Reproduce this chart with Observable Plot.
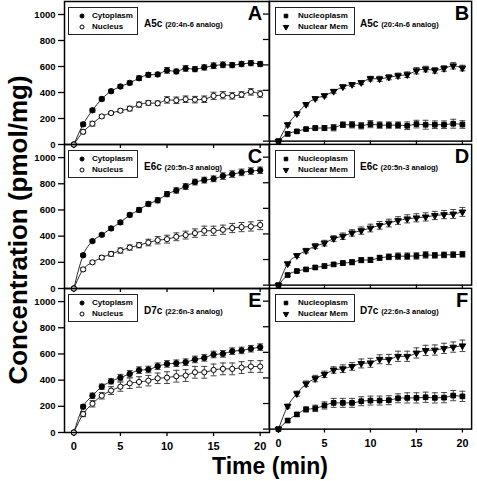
<!DOCTYPE html>
<html><head><meta charset="utf-8">
<script src="https://cdn.jsdelivr.net/npm/d3@7"></script>
<script src="https://cdn.jsdelivr.net/npm/@observablehq/plot@0.6"></script>
<style>
body{margin:0;background:#fff;}
#root{position:relative;width:477px;height:481px;overflow:hidden;font-family:"Liberation Sans",Arial,sans-serif;font-weight:bold;color:#000;}
.pw{position:absolute;}
.pw svg{overflow:visible;display:block;}
.legend{position:absolute;border:1px solid #222;box-sizing:border-box;background:#fff;font-size:8px;}
.legrow{position:absolute;left:0;white-space:nowrap;line-height:10px;}
.legrow svg{position:absolute;top:0;}
.legrow span{position:absolute;top:0;}
.clab{position:absolute;white-space:nowrap;transform:translateY(-50%);}
.clab .c{font-size:10px;}
.clab .a{font-size:7.5px;}
.letter{position:absolute;font-size:20px;transform:translate(-50%,-50%);}
#ylab{position:absolute;left:18px;top:230px;transform:translate(-50%,-50%) rotate(-90deg);white-space:nowrap;font-size:26px;}
#xlab{position:absolute;left:270px;top:466px;transform:translate(-50%,-50%);white-space:nowrap;font-size:23px;}
</style>
</head><body>
<div id="root">
  <div id="ylab">Concentration (pmol/mg)</div>
  <div id="xlab">Time (min)</div>
</div>
<script>
// ---------- data ----------
const time = [0,1,2,3,4,5,6,7,8,9,10,11,12,13,14,15,16,17,18,19,20];
const xTicks = [0,5,10,15,20];
const yTicks = [0,200,400,600,800,1000];
const panelLetters = ["A","B","C","D","E","F"];
const compounds = ["A5c","E6c","D7c"];
const analogs = ["(20:4n-6 analog)","(20:5n-3 analog)","(22:6n-3 analog)"];
const leftNames = ["Cytoplasm","Nucleus"];
const rightNames = ["Nucleoplasm","Nuclear Mem"];

const A_cyto     = [0,155,263,350,410,446,474,510,536,539,570,562,585,580,593,606,613,611,619,626,619];
const A_cyto_err = [0,15,15,15,14,15,15,18,18,16,22,18,22,20,20,22,22,20,20,20,20];
const A_nuc      = [0,98,160,216,242,260,276,307,320,317,343,340,348,345,348,374,379,374,384,405,388];
const A_nuc_err  = [0,15,18,12,12,14,18,20,18,18,25,25,25,25,25,28,28,25,22,25,25];

const B_np       = [0,57,77,95,103,103,106,129,129,121,134,126,126,126,121,134,129,129,129,137,131];
const B_np_err   = [0,15,12,10,15,20,25,22,25,25,28,25,25,25,30,30,35,30,30,35,30];
const B_mem      = [0,129,216,289,335,358,392,428,446,461,492,490,503,515,523,554,567,557,572,593,575];
const B_mem_err  = [0,15,12,12,12,12,15,15,15,15,18,20,20,20,22,25,22,22,22,25,22];

const C_cyto     = [0,254,362,410,459,505,562,600,646,674,721,749,779,813,828,838,859,874,887,897,903];
const C_cyto_err = [0,12,12,12,15,15,15,18,18,20,20,20,22,22,22,22,25,25,25,25,25];
const C_nuc      = [0,146,200,236,264,290,313,331,351,369,377,395,408,423,441,441,449,462,469,474,485];
const C_nuc_err  = [0,12,12,15,18,20,20,20,25,28,30,30,30,32,35,35,35,35,35,35,35];

const D_np       = [0,79,110,123,138,149,162,172,179,195,197,213,221,226,226,228,236,233,236,238,241];
const D_np_err   = [0,12,12,12,15,15,15,18,20,20,20,20,22,25,25,25,25,22,22,22,22];
const D_mem      = [0,167,231,269,305,328,364,382,408,426,446,467,485,505,518,526,533,544,551,556,572];
const D_mem_err  = [0,12,15,18,20,22,22,25,25,28,30,30,30,30,32,32,32,32,32,35,35];

const E_cyto     = [0,197,281,350,391,419,448,476,481,506,524,529,537,558,570,596,601,621,627,640,652];
const E_cyto_err = [0,15,20,20,20,25,25,25,25,25,25,25,25,25,25,25,25,25,25,25,25];
const E_nuc      = [0,141,220,281,320,350,376,386,396,414,419,430,435,460,460,478,486,486,496,504,504];
const E_nuc_err  = [0,20,25,25,30,35,40,40,40,40,45,45,45,45,45,45,45,45,45,45,45];

const F_np       = [0,67,115,154,162,185,205,205,205,218,223,223,226,241,244,244,249,244,246,262,256];
const F_np_err   = [0,15,15,20,25,28,35,35,35,35,35,35,35,35,40,40,40,40,40,40,40];
const F_mem      = [0,179,277,354,395,428,462,472,490,513,518,546,544,569,569,595,615,618,631,641,651];
const F_mem_err  = [0,15,20,22,25,25,25,30,30,35,35,35,40,40,40,40,40,40,40,40,45];

// ---------- symbols ----------
const triDown = {draw(ctx, size){
  const s = Math.sqrt(size*4/Math.sqrt(3)), h = s*Math.sqrt(3)/2;
  ctx.moveTo(-s/2, -h/3); ctx.lineTo(s/2, -h/3); ctx.lineTo(0, 2*h/3); ctx.closePath();
}};
const styles = {
  "Cytoplasm":   {symbol:"circle", r:2.7, fill:"#000", stroke:"#000"},
  "Nucleus":     {symbol:"circle", r:2.6, fill:"#fff", stroke:"#000"},
  "Nucleoplasm": {symbol:"square", r:2.7, fill:"#000", stroke:"#000"},
  "Nuclear Mem": {symbol:triDown,  r:2.5, fill:"#000", stroke:"#000"}
};

const rows = (v, e) => time.map((t,i) => ({t, v:v[i], e:e[i]}));
const panels = [
  {row:0,col:0,series:[["Cytoplasm",rows(A_cyto,A_cyto_err)],["Nucleus",rows(A_nuc,A_nuc_err)]]},
  {row:0,col:1,series:[["Nucleoplasm",rows(B_np,B_np_err)],["Nuclear Mem",rows(B_mem,B_mem_err)]]},
  {row:1,col:0,series:[["Cytoplasm",rows(C_cyto,C_cyto_err)],["Nucleus",rows(C_nuc,C_nuc_err)]]},
  {row:1,col:1,series:[["Nucleoplasm",rows(D_np,D_np_err)],["Nuclear Mem",rows(D_mem,D_mem_err)]]},
  {row:2,col:0,series:[["Cytoplasm",rows(E_cyto,E_cyto_err)],["Nucleus",rows(E_nuc,E_nuc_err)]]},
  {row:2,col:1,series:[["Nucleoplasm",rows(F_np,F_np_err)],["Nuclear Mem",rows(F_mem,F_mem_err)]]}
];

// ---------- layout ----------
const colX = [64, 269], colW = [205, 207];
const rowY = [1, 144, 288], rowH = [143, 144, 144];
const root = document.getElementById("root");

panels.forEach((p, idx) => {
  const left = p.col === 0, bottom = p.row === 2;
  const ml = left ? 45 : 10, mr = 6, mt = 6, mb = bottom ? 30 : 8;
  const fw = colW[p.col], fh = rowH[p.row];
  const marks = [];
  marks.push(Plot.axisY({ticks:yTicks, tickSize:6, tickPadding:3, strokeWidth:1.3,
    tickFormat: left ? d3.format("d") : () => "", label:null, fontSize:9.5, fontWeight:"bold"}));
  marks.push(Plot.axisX({ticks:xTicks, tickSize:4, tickPadding:6, strokeWidth:1.3,
    tickFormat: bottom ? d3.format("d") : () => "", label:null, fontSize:11, fontWeight:"bold"}));
  p.series.forEach(([name, d]) => {
    marks.push(Plot.line(d, {x:"t", y:"v", stroke:"#111", strokeWidth:0.9, curve:"monotone-x"}));
  });
  p.series.forEach(([name, d]) => {
    const eb = d.filter(r => r.e > 0);
    const es = {stroke:"#444", strokeWidth:1};
    marks.push(Plot.ruleX(eb, {x:"t", y1:r => r.v - r.e, y2:r => r.v + r.e, ...es}));
    marks.push(Plot.link(eb, {x1:r => r.t - 0.32, x2:r => r.t + 0.32, y1:r => r.v + r.e, y2:r => r.v + r.e, ...es}));
    marks.push(Plot.link(eb, {x1:r => r.t - 0.32, x2:r => r.t + 0.32, y1:r => r.v - r.e, y2:r => r.v - r.e, ...es}));
  });
  p.series.forEach(([name, d]) => {
    const s = styles[name];
    marks.push(Plot.dot(d, {x:"t", y:"v", symbol:s.symbol, r:s.r, fill:s.fill, stroke:s.stroke, strokeWidth:1}));
  });
  marks.push(Plot.frame({stroke:"#000", strokeWidth:1.5}));

  const chart = Plot.plot({
    width: ml + fw + mr, height: mt + fh + mb,
    marginLeft: ml, marginRight: mr, marginTop: mt, marginBottom: mb,
    x: {domain:[-1,21]}, y: {domain:[0,1100]},
    style: {fontFamily:"'Liberation Sans', Arial, sans-serif", fontWeight:"bold", color:"#000", background:"transparent", overflow:"visible"},
    marks
  });
  const wrap = document.createElement("div");
  wrap.className = "pw";
  wrap.style.left = (colX[p.col] - ml) + "px";
  wrap.style.top = (rowY[p.row] - mt) + "px";
  wrap.appendChild(chart);
  root.appendChild(wrap);

  // legend
  const names = left ? leftNames : rightNames;
  const lg = document.createElement("div");
  lg.className = "legend";
  const bx = colX[p.col] + (left ? 4 : 6), by = rowY[p.row] + 6;
  lg.style.left = bx + "px"; lg.style.top = by + "px";
  lg.style.width = (left ? 70 : 80) + "px"; lg.style.height = "28px";
  names.forEach((n, i) => {
    const st = styles[n];
    const r = document.createElement("div");
    r.className = "legrow";
    r.style.top = (3 + i * 11) + "px";
    const sv = d3.create("svg").attr("width", 10).attr("height", 10).style("left", (left ? 8 : 5) + "px");
    const sym = typeof st.symbol === "string" ? (st.symbol === "circle" ? d3.symbolCircle : d3.symbolSquare) : st.symbol;
    sv.append("path").attr("transform", "translate(5,5)")
      .attr("d", d3.symbol(sym, Math.PI * 2 * 2)())
      .attr("fill", st.fill).attr("stroke", st.stroke).attr("stroke-width", 1);
    r.appendChild(sv.node());
    const sp = document.createElement("span");
    sp.textContent = n;
    sp.style.left = (left ? 23 : 22) + "px";
    r.appendChild(sp);
    lg.appendChild(r);
  });
  root.appendChild(lg);

  // compound label
  const cl = document.createElement("div");
  cl.className = "clab";
  cl.style.left = (colX[p.col] + (left ? 80 : 91)) + "px";
  cl.style.top = (rowY[p.row] + 21) + "px";
  const c1 = document.createElement("span"); c1.className = "c"; c1.textContent = compounds[p.row] + " ";
  const c2 = document.createElement("span"); c2.className = "a"; c2.textContent = analogs[p.row];
  cl.appendChild(c1); cl.appendChild(c2);
  root.appendChild(cl);

  // panel letter
  const lt = document.createElement("div");
  lt.className = "letter";
  lt.textContent = panelLetters[idx];
  lt.style.left = (colX[p.col] + fw - 14) + "px";
  lt.style.top = (rowY[p.row] + 12) + "px";
  root.appendChild(lt);
});
</script>
</body></html>
